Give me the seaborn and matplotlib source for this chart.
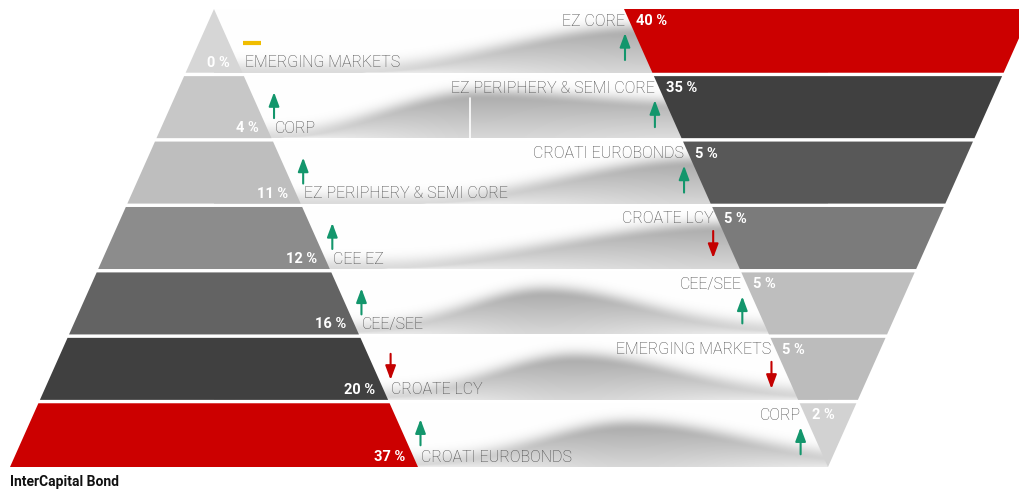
import numpy as np
import matplotlib
matplotlib.use("Agg")
import matplotlib.pyplot as plt
from matplotlib.patches import Polygon
import seaborn as sns

# Portfolio allocation: previous structure (pyramid) vs. current structure (funnel)
left_categories = ["EMERGING MARKETS", "CORP", "EZ PERIPHERY & SEMI CORE",
                   "CEE EZ", "CEE/SEE", "CROATE LCY", "CROATI EUROBONDS"]
left_values = [0, 4, 11, 12, 16, 20, 37]
left_trend = ["flat", "up", "up", "up", "up", "down", "up"]

right_categories = ["EZ CORE", "EZ PERIPHERY & SEMI CORE", "CROATI EUROBONDS",
                    "CROATE LCY", "CEE/SEE", "EMERGING MARKETS", "CORP"]
right_values = [40, 35, 5, 5, 5, 5, 2]
right_trend = ["up", "up", "up", "down", "up", "down", "up"]

source_label = "InterCapital Bond"

sns.set_theme(style="white")
plt.rcParams["font.family"] = ["Roboto", "DejaVu Sans"]

W, H = 1019, 491
fig = plt.figure(figsize=(W / 100, H / 100), dpi=100)
ax = fig.add_axes([0, 0, 1, 1])
ax.set_xlim(0, W)
ax.set_ylim(H, 0)
ax.axis("off")

TOP, BASE = 9.0, 467.0
N = len(left_categories)
ROW = (BASE - TOP) / N
GAP = 3.4
HALF = 204.0
LC, RC = 214.0, 828.0

left_colors = ["#d6d6d6", "#c7c7c7", "#bebebe", "#8c8c8c", "#636363", "#404040", "#cc0000"]
right_colors = ["#cc0000", "#404040", "#585858", "#7b7b7b", "#bebebe", "#bcbcbc", "#d2d2d2"]

LABEL_GREY = "#484848"
UP_GREEN = "#13966c"
DOWN_RED = "#c40000"


def row_span(i):
    y0 = TOP + i * ROW + (GAP / 2 if i > 0 else 0)
    y1 = TOP + (i + 1) * ROW - (GAP / 2 if i < N - 1 else 0)
    return y0, y1


def left_hw(y):
    return HALF * (y - TOP) / (BASE - TOP)


def right_hw(y):
    return HALF * (BASE - y) / (BASE - TOP)


def smooth(u):
    u = np.clip(u, 0, 1)
    return u * u * (3 - 2 * u)


# shaded ribbons joining the two shapes, one per row
ribbon_shapes = [
    ("rise", 360, 640, 0.40),
    ("rise", 280, 480, 0.38),
    ("rise", 420, 700, 0.40),
    ("rise", 380, 730, 0.40),
    ("hump", 545, 105, 0.40),
    ("hump", 575, 110, 0.40),
    ("hump", 630, 120, 0.42),
]

xs = np.linspace(LC, RC, 700)
ts = np.linspace(0, 1, 90)
X, T = np.meshgrid(xs, ts)
for i, (kind, a, b, rmin) in enumerate(ribbon_shapes):
    y0, y1 = row_span(i)
    if kind == "rise":
        p = smooth((xs - a) / (b - a))
        p = np.where(xs > b, 1 - 0.25 * smooth((xs - b) / 200), p)
    else:
        w = np.where(xs < a, b, b * 1.3)
        p = np.exp(-((xs - a) / w) ** 2)
    ridge = 1 - (1 - rmin) * p
    amp = 0.45 + 0.55 * p
    R = ridge[None, :]
    below = 1 - 0.5 * np.clip((T - R) / np.maximum(1 - R, 1e-3), 0, 1)
    above = np.exp(-((R - T) / 0.17) ** 2)
    d = np.where(T >= R, below, above) * amp[None, :]
    grey = 1 - 0.31 * d
    img = np.dstack([grey, grey, grey])
    ax.imshow(img, extent=[LC, RC, y1, y0], origin="upper",
              aspect="auto", interpolation="bilinear", zorder=1)

# thin white seam in the second ribbon
y0, y1 = row_span(1)
ax.plot([470, 470], [y0 + 22, y1], color="white", lw=1.2, zorder=2)

# left pyramid
for i in range(N):
    y0, y1 = row_span(i)
    poly = [(LC - left_hw(y0), y0), (LC + left_hw(y0), y0),
            (LC + left_hw(y1), y1), (LC - left_hw(y1), y1)]
    ax.add_patch(Polygon(poly, closed=True, facecolor=left_colors[i],
                         edgecolor="none", zorder=3))

# right funnel
for i in range(N):
    y0, y1 = row_span(i)
    poly = [(RC - right_hw(y0), y0), (RC + right_hw(y0), y0),
            (RC + right_hw(y1), y1), (RC - right_hw(y1), y1)]
    ax.add_patch(Polygon(poly, closed=True, facecolor=right_colors[i],
                         edgecolor="none", zorder=3))


def trend_mark(x, y_top, y_bot, trend):
    if trend == "flat":
        ax.plot([x - 2, x + 16], [y_bot - 8, y_bot - 8], color="#f0bd00",
                lw=3, solid_capstyle="butt", zorder=5)
        return
    if trend == "up":
        start, end, col = (x, y_bot), (x, y_top), UP_GREEN
    else:
        start, end, col = (x, y_top), (x, y_bot), DOWN_RED
    ax.annotate("", xy=end, xytext=start, zorder=5,
                arrowprops=dict(arrowstyle="-|>,head_width=0.26,head_length=0.7",
                                color=col, lw=1.5, shrinkA=0, shrinkB=0,
                                mutation_scale=12))


pct_kw = dict(color="white", fontsize=10.5, fontweight="bold", zorder=6)
cat_kw = dict(color=LABEL_GREY, fontsize=11.5, fontweight="light", zorder=6)

for i in range(N):
    y0, y1 = row_span(i)
    edge = LC + left_hw(y1)
    ax.text(edge - 13, y1 - 10, f"{left_values[i]} %", ha="right", va="center", **pct_kw)
    ax.text(edge + 3, y1 - 10, left_categories[i], ha="left", va="center", **cat_kw)
    trend_mark(edge + 2.5, y0 + 16, y0 + 42, left_trend[i])

for i in range(N):
    y0, y1 = row_span(i)
    edge = RC - right_hw(y0)
    ax.text(edge + 12, y0 + 12, f"{right_values[i]} %", ha="left", va="center", **pct_kw)
    ax.text(edge + 1, y0 + 12, right_categories[i], ha="right", va="center", **cat_kw)
    trend_mark(edge + 1, y0 + 24, y0 + 51, right_trend[i])

ax.text(10, 482, source_label, ha="left", va="center", fontsize=10,
        fontweight="bold", color="#111111", zorder=6)

fig.savefig("out.png", dpi=100, facecolor="white")
